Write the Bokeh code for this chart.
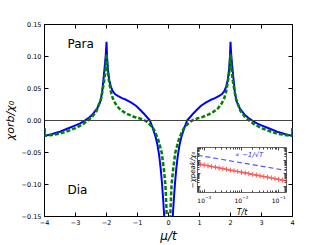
from bokeh.plotting import figure
from bokeh.models import Span, LinearAxis, LogAxis, Range1d, FixedTicker, CustomJSTickFormatter
from bokeh.layouts import column
from bokeh.core.properties import value
from bokeh.embed import file_html
from bokeh.resources import INLINE

nan = float("nan")

# ---- main panel data ----
mu_blue = [-4.00, -3.995, -3.75, -3.50, -3.25, -3.00, -2.85, -2.70, -2.55, -2.46, -2.38, -2.30,
           -2.24, -2.19, -2.14, -2.09, -2.05, -2.02, -2.00, -1.98, -1.95, -1.91, -1.86, -1.80,
           -1.72, -1.62, -1.50, -1.35, -1.20, -1.05, -0.90, -0.80, -0.70, -0.60, -0.50, -0.42,
           -0.36, -0.30, -0.25, -0.21, -0.17, -0.14, -0.11, -0.08,
           0.0,
           0.08, 0.11, 0.14, 0.17, 0.21, 0.25, 0.30, 0.36, 0.42, 0.50, 0.60, 0.70, 0.80, 0.90,
           1.05, 1.20, 1.35, 1.50, 1.62, 1.72, 1.80, 1.86, 1.91, 1.95, 1.98, 2.00, 2.02, 2.05,
           2.09, 2.14, 2.19, 2.24, 2.30, 2.38, 2.46, 2.55, 2.70, 2.85, 3.00, 3.25, 3.50, 3.75,
           3.995, 4.00]
chi_blue = [-0.012, -0.024, -0.021, -0.0175, -0.0125, -0.0075, -0.0045, 0.0, 0.005, 0.009, 0.014, 0.019,
            0.025, 0.031, 0.045, 0.068, 0.088, 0.105, 0.123, 0.098, 0.078, 0.063, 0.053, 0.046,
            0.041, 0.038, 0.035, 0.032, 0.028, 0.023, 0.016, 0.011, 0.0055, 0.0, -0.013, -0.025,
            -0.037, -0.055, -0.076, -0.098, -0.125, -0.148, -0.18, -0.25,
            nan,
            -0.25, -0.18, -0.148, -0.125, -0.098, -0.076, -0.055, -0.037, -0.025, -0.013, 0.0, 0.0055, 0.011, 0.016,
            0.023, 0.028, 0.032, 0.035, 0.038, 0.041, 0.046, 0.053, 0.063, 0.078, 0.098, 0.123, 0.105, 0.088,
            0.068, 0.045, 0.031, 0.025, 0.019, 0.014, 0.009, 0.005, 0.0, -0.0045, -0.0075, -0.0125, -0.0175, -0.021,
            -0.024, -0.012]

mu_green = [-4.00, -3.995, -3.75, -3.50, -3.25, -3.00, -2.75, -2.60, -2.46, -2.32, -2.17, -2.08,
            -2.03, -2.00, -1.97, -1.92, -1.86, -1.80, -1.72, -1.60, -1.45, -1.30, -1.10, -0.95,
            -0.80, -0.70, -0.60, -0.50, -0.44, -0.33, -0.22, -0.15, -0.10, -0.07, -0.05, -0.035,
            0.0,
            0.035, 0.05, 0.07, 0.10, 0.15, 0.22, 0.33, 0.44, 0.50, 0.60, 0.70, 0.80,
            0.95, 1.10, 1.30, 1.45, 1.60, 1.72, 1.80, 1.86, 1.92, 1.97, 2.00, 2.03,
            2.08, 2.17, 2.32, 2.46, 2.60, 2.75, 3.00, 3.25, 3.50, 3.75, 3.995, 4.00]
chi_green = [-0.012, -0.024, -0.0225, -0.0205, -0.0165, -0.012, -0.0055, 0.0, 0.006, 0.015, 0.035, 0.06,
             0.08, 0.104, 0.08, 0.062, 0.045, 0.035, 0.027, 0.019, 0.0135, 0.0095, 0.0055, 0.0035,
             0.001, -0.002, -0.0065, -0.012, -0.017, -0.030, -0.050, -0.076, -0.10, -0.132, -0.16, -0.22,
             nan,
             -0.22, -0.16, -0.132, -0.10, -0.076, -0.050, -0.030, -0.017, -0.012, -0.0065, -0.002, 0.001,
             0.0035, 0.0055, 0.0095, 0.0135, 0.019, 0.027, 0.035, 0.045, 0.062, 0.08, 0.104, 0.08,
             0.06, 0.035, 0.015, 0.006, 0.0, -0.0055, -0.012, -0.0165, -0.0205, -0.0225, -0.024, -0.012]

x_ticks = [-4, -3, -2, -1, 0, 1, 2, 3, 4]
x_tick_labels = ["\u22124", "\u22123", "\u22122", "\u22121", "0", "1", "2", "3", "4"]
y_ticks = [-0.15, -0.10, -0.05, 0.0, 0.05, 0.10, 0.15]
y_tick_labels = ["\u22120.15", "\u22120.10", "\u22120.05", "0.00", "0.05", "0.10", "0.15"]

# ---- inset data ----
inset_T = [7.9e-4, 1.0e-3, 1.26e-3, 1.58e-3, 2.0e-3, 2.51e-3, 3.16e-3, 3.98e-3, 5.01e-3, 6.31e-3,
           7.94e-3, 1.0e-2, 1.26e-2, 1.58e-2, 2.0e-2, 2.51e-2, 3.16e-2, 3.98e-2, 5.01e-2, 6.31e-2,
           7.94e-2, 1.0e-1, 1.26e-1, 1.58e-1]
inset_chi_peak = [53.7, 47.2, 41.5, 36.5, 32.1, 28.2, 24.8, 21.8, 19.1, 16.8,
                  14.8, 13.0, 11.4, 10.0, 8.8, 7.8, 6.8, 6.0, 5.3, 4.6,
                  4.1, 3.6, 3.1, 2.8]
fit_T = [6.6e-4, 0.162]
fit_chi = [275.0, 17.7]
inset_x_ticks = [1e-3, 1e-2, 1e-1]
inset_x_minor = [7e-4, 8e-4, 9e-4, 2e-3, 3e-3, 4e-3, 5e-3, 6e-3, 7e-3, 8e-3, 9e-3,
                 2e-2, 3e-2, 4e-2, 5e-2, 6e-2, 7e-2, 8e-2, 9e-2, 0.15]
inset_y_ticks = [1, 10, 100, 1000]
inset_y_minor = [0.4, 0.5, 0.6, 0.7, 0.8, 0.9, 2, 3, 4, 5, 6, 7, 8, 9, 20, 30, 40, 50, 60, 70, 80, 90,
                 200, 300, 400, 500, 600, 700, 800, 900]

FONT = "DejaVu Sans"

# ---------------- main panel ----------------
p = figure(width=325, height=245, output_backend="svg", toolbar_location=None,
           x_range=Range1d(-4, 4), y_range=Range1d(-0.15, 0.15),
           min_border_left=42, min_border_right=33, min_border_top=24, min_border_bottom=26)
p.background_fill_color = "white"
p.border_fill_color = "white"
p.outline_line_color = "black"
p.outline_line_width = 1
p.xgrid.visible = False
p.ygrid.visible = False

for ax, ticks, labels in ((p.xaxis[0], x_ticks, x_tick_labels), (p.yaxis[0], y_ticks, y_tick_labels)):
    ax.ticker = FixedTicker(ticks=ticks)
    ax.major_label_overrides = {t: l for t, l in zip(ticks, labels)}
    ax.major_tick_in = 4
    ax.major_tick_out = 0
    ax.major_tick_line_color = "black"
    ax.minor_tick_line_color = None
    ax.axis_line_color = None
    ax.major_label_text_font = FONT
    ax.major_label_text_font_size = "6.5px"
    ax.major_label_text_color = "black"
    ax.major_label_standoff = 3
    ax.axis_label_text_font = FONT
    ax.axis_label_text_font_style = "italic"
    ax.axis_label_text_color = "black"
    ax.axis_label_text_font_size = "12px"
    ax.axis_label_standoff = 2
p.xaxis.axis_label = "\u03bc/t"
p.xaxis.axis_label_standoff = 1
p.yaxis.axis_label = "\u03c7orb/\u03c7\u2080"
p.yaxis.axis_label_text_font_size = "11px"

for loc, tks in (("right", y_ticks), ("above", x_ticks)):
    a = LinearAxis(ticker=FixedTicker(ticks=tks),
                   formatter=CustomJSTickFormatter(code="return ''"),
                   major_tick_in=4, major_tick_out=0, minor_tick_line_color=None,
                   major_tick_line_color="black",
                   axis_line_color=None, major_label_text_font_size="1px", major_label_standoff=0)
    p.add_layout(a, loc)

p.add_layout(Span(location=0, dimension="width", line_color="#444444", line_width=1))

p.line(mu_blue, chi_blue, line_color="#0000ff", line_width=2)
p.line(mu_green, chi_green, line_color="#008000", line_width=2.5, line_dash="4 2")

p.text(x=[-3.26], y=[0.12], text=["Para"], text_font=value(FONT), text_font_size="12px",
       text_baseline="middle", text_align="left", text_color="black")
p.text(x=[-3.26], y=[-0.108], text=["Dia"], text_font=value(FONT), text_font_size="12px",
       text_baseline="middle", text_align="left", text_color="black")

# ---------------- inset ----------------
# borders match the main panel's (the column aligns frame edges)
pi = figure(width=166, height=75, output_backend="svg", toolbar_location=None,
            x_axis_type="log", y_axis_type="log",
            x_range=Range1d(6.6e-4, 0.162), y_range=Range1d(0.34, 1100),
            min_border_left=42, min_border_right=33, min_border_top=3, min_border_bottom=25)
pi.background_fill_color = "white"
pi.border_fill_alpha = 0
pi.outline_line_color = "#666666"
pi.outline_line_width = 1
pi.xgrid.visible = False
pi.ygrid.visible = False

xa = pi.xaxis[0]
xa.ticker = FixedTicker(ticks=inset_x_ticks, minor_ticks=inset_x_minor)
xa.major_tick_in = 3
xa.major_tick_out = 0
xa.minor_tick_in = 2
xa.minor_tick_out = 0
xa.major_tick_line_color = "#444444"
xa.minor_tick_line_color = "#444444"
xa.axis_line_color = None
xa.major_label_text_font = FONT
xa.major_label_text_font_size = "6px"
xa.major_label_text_color = "black"
xa.major_label_standoff = 2
xa.axis_label = "T/t"
xa.axis_label_text_font = FONT
xa.axis_label_text_font_style = "italic"
xa.axis_label_text_color = "black"
xa.axis_label_text_font_size = "8px"
xa.axis_label_standoff = 2

ya = pi.yaxis[0]
ya.ticker = FixedTicker(ticks=inset_y_ticks, minor_ticks=inset_y_minor)
ya.formatter = CustomJSTickFormatter(code="return ''")
ya.major_tick_in = 3
ya.major_tick_out = 0
ya.minor_tick_in = 2
ya.minor_tick_out = 0
ya.major_tick_line_color = "#444444"
ya.minor_tick_line_color = "#444444"
ya.axis_line_color = None
ya.major_label_text_font_size = "1px"
ya.major_label_standoff = 0
ya.axis_label = "\u2212\u03c7peak/\u03c7\u2080"
ya.axis_label_text_font = FONT
ya.axis_label_text_font_style = "italic"
ya.axis_label_text_color = "black"
ya.axis_label_text_font_size = "7px"
ya.axis_label_standoff = 1

for loc, tks, mnr in (("right", inset_y_ticks, inset_y_minor), ("above", inset_x_ticks, inset_x_minor)):
    a = LogAxis(ticker=FixedTicker(ticks=tks, minor_ticks=mnr),
                formatter=CustomJSTickFormatter(code="return ''"),
                major_tick_in=3, major_tick_out=0, minor_tick_in=2, minor_tick_out=0,
                major_tick_line_color="#444444", minor_tick_line_color="#444444",
                axis_line_color=None, major_label_text_font_size="1px", major_label_standoff=0)
    pi.add_layout(a, loc)

pi.line(fit_T, fit_chi, line_color="#5555ff", line_width=1.2, line_dash="5 3")
pi.line(inset_T, inset_chi_peak, line_color="#ff5555", line_width=1.2)
pi.scatter(inset_T, inset_chi_peak, marker="cross", size=5, line_color="#ff5555", line_width=1)
pi.text(x=[0.016], y=[275], text=["\u221d \u22121/\u221aT"], text_font=value(FONT),
        text_font_size="7px", text_font_style="italic", text_color="#3333ff",
        text_align="center", text_baseline="middle")

pi.margin = (-101, 0, 0, 153)

layout = column(p, pi)
open("out.html", "w").write(file_html(layout, INLINE))
